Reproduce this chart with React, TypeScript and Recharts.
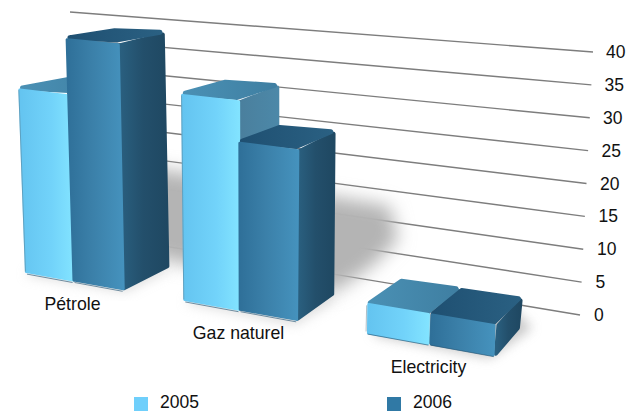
import React from "react";
import { BarChart, Bar, XAxis, YAxis, CartesianGrid, Legend } from "recharts";

const categories = ["Pétrole", "Gaz naturel", "Electricity"];
const values2005 = [28.5, 30.5, 4.2];
const values2006 = [37, 24.5, 4.2];
const yTicks = [0, 5, 10, 15, 20, 25, 30, 35, 40];

const chartData = categories.map((name, i) => ({
  name,
  y2005: values2005[i],
  y2006: values2006[i],
}));

const WIDTH = 638;
const HEIGHT = 413;
const PLOT_LEFT = 60;
const PLOT_RIGHT = 580;
const PLOT_TOP = 52;
const PLOT_BOTTOM = 315;
const BAND = (PLOT_RIGHT - PLOT_LEFT) / categories.length;
const FONT = "'Liberation Sans', Arial, sans-serif";

// perspective: the flat plot x is bent so that nearer categories get wider
const screenX = (x: number) => {
  const t = (x - (PLOT_LEFT + BAND / 2)) / BAND;
  return 74 + 154 * t + 12 * t * t;
};
const floorY = (sx: number) => 273 + 0.176 * (sx - 23);

type Pt = { x: number; y: number };

const project = (x: number, h: number): Pt => {
  const sx = screenX(x);
  const tall = h * (1 + 0.0003 * (sx - 62));
  return { x: sx + (sx - 250) * tall * 0.00016, y: floorY(sx) - tall };
};

const goBack = (p: Pt, h: number): Pt => ({
  x: p.x + 50.5 - 0.05 * p.x,
  y: p.y - (20 + 0.016 * p.x) + 0.045 * h,
});

// pull the corners in, the round stroke then grows them back with a soft bevel
const inset = (list: Pt[], d: number): string => {
  const cx = list.reduce((s, p) => s + p.x, 0) / list.length;
  const cy = list.reduce((s, p) => s + p.y, 0) / list.length;
  return list
    .map((p) => {
      const dx = cx - p.x;
      const dy = cy - p.y;
      const len = Math.hypot(dx, dy) || 1;
      return `${p.x + (dx / len) * d * 1.3},${p.y + (dy / len) * d * 1.3}`;
    })
    .join(" ");
};

const Box = (props: any) => {
  const { x, width, height, series } = props;
  const bl = project(x, 0);
  const br = project(x + width, 0);
  const tl = project(x, height);
  const tr = project(x + width, height);
  const brBack = goBack(br, 0);
  const trBack = goBack(tr, height);
  const tlBack = goBack(tl, height);
  const bevel = (id: string, d: number) => ({
    fill: `url(#${id}${series})`,
    stroke: `url(#${id}${series})`,
    strokeWidth: d * 2,
    strokeLinejoin: "round" as const,
  });
  return (
    <g>
      <polygon points={inset([br, tr, trBack, brBack], 2)} {...bevel("side", 2)} />
      <polygon points={inset([tl, tr, trBack, tlBack], 2.5)} {...bevel("top", 2.5)} />
      <polygon points={inset([bl, br, tr, tl], 1.5)} {...bevel("front", 1.5)} />
      <line x1={bl.x + 1} y1={bl.y + 0.6} x2={br.x - 1} y2={br.y + 0.6} stroke="#2a5876" strokeWidth={1} opacity={0.65} />
      {series === "2005" && (
        <line x1={bl.x - 0.5} y1={bl.y - 2} x2={tl.x - 0.5} y2={tl.y + 2} stroke="#55788c" strokeWidth={0.8} opacity={0.6} />
      )}
    </g>
  );
};

// slanted wall lines, converging towards the far left
const WallLine = (props: any) => {
  const y = props.y1;
  const k = (PLOT_BOTTOM - y) / (PLOT_BOTTOM - PLOT_TOP);
  return (
    <line
      key={props.key}
      x1={62 + 8 * k}
      y1={229 - 217 * k}
      x2={PLOT_RIGHT + 13 * k}
      y2={y}
      stroke="#7d7d7d"
      strokeWidth={1.4}
    />
  );
};

const ValueTick = (props: any) => {
  const { y, payload } = props;
  return (
    <text x={594 + (payload.value / 40) * 12} y={y + 6} fontSize={17.5} fontFamily={FONT} fill="#111">
      {payload.value}
    </text>
  );
};

const CategoryTick = (props: any) => {
  const { x, payload } = props;
  const sx = screenX(x);
  return (
    <text x={sx - 1.5} y={floorY(sx) + 28} textAnchor="middle" fontSize={17.7} fontFamily={FONT} fill="#111">
      {payload.value}
    </text>
  );
};

const legendX = [134, 387];

const LegendRow = ({ payload }: any) => (
  <div style={{ position: "relative", height: 0, fontFamily: FONT, fontSize: 17.5, color: "#111" }}>
    {(payload || []).map((entry: any, i: number) => (
      <React.Fragment key={entry.value}>
        <span style={{ position: "absolute", left: legendX[i], top: 397, width: 14, height: 14, background: entry.color }} />
        <span style={{ position: "absolute", left: legendX[i] + 26, top: 392, lineHeight: "20px" }}>{entry.value}</span>
      </React.Fragment>
    ))}
  </div>
);

const gradient = (id: string, stops: [number, string][]) => (
  <linearGradient id={id} x1="0" y1="0" x2="1" y2="0">
    {stops.map(([o, c]) => (
      <stop key={o} offset={o} stopColor={c} />
    ))}
  </linearGradient>
);

export default function App() {
  return (
    <div style={{ position: "absolute", left: 0, top: 0, width: WIDTH, height: HEIGHT }}>
      <BarChart
        width={WIDTH}
        height={HEIGHT}
        data={chartData}
        barCategoryGap="18%"
        barGap={0}
        margin={{ top: PLOT_TOP, right: 0, bottom: HEIGHT - PLOT_BOTTOM - 30, left: PLOT_LEFT }}
      >
        <defs>
          {gradient("front2005", [[0, "#64c4f0"], [0.6, "#72d3fa"], [1, "#82e3ff"]])}
          {gradient("side2005", [[0, "#4a7f9d"], [1, "#4c88a8"]])}
          {gradient("top2005", [[0, "#4a90b4"], [1, "#3f7fa2"]])}
          {gradient("front2006", [[0, "#2f7099"], [0.45, "#3b80a9"], [1, "#4592bd"]])}
          {gradient("side2006", [[0, "#2a6080"], [0.5, "#234f6b"], [1, "#1f4862"]])}
          {gradient("top2006", [[0, "#1f5072"], [1, "#2a6082"]])}
          <filter id="softShadow" x="-30%" y="-30%" width="160%" height="160%">
            <feGaussianBlur stdDeviation="9" />
          </filter>
          <filter id="softFloor" x="-30%" y="-30%" width="160%" height="160%">
            <feGaussianBlur stdDeviation="6" />
          </filter>
        </defs>
        {/* soft shadows thrown on the wall and floor, under the wall lines */}
        <polygon points="130,165 260,184 390,206 398,240 372,266 335,292 175,262 130,250" fill="#b4b4b4" filter="url(#softShadow)" />
        <polygon points="25,275 125,292 170,270 150,262 40,262" fill="#bdbdbd" filter="url(#softFloor)" opacity={0.5} />
        <polygon points="185,303 295,325 337,300 320,290 200,290" fill="#bdbdbd" filter="url(#softFloor)" opacity={0.5} />
        <polygon points="372,335 490,358 532,328 510,305 400,300" fill="#9a9a9a" filter="url(#softFloor)" opacity={0.55} />
        <CartesianGrid vertical={false} horizontal={WallLine} />
        <XAxis dataKey="name" height={30} axisLine={false} tickLine={false} interval={0} tick={CategoryTick} />
        <YAxis
          orientation="right"
          width={WIDTH - PLOT_RIGHT}
          domain={[0, 40]}
          ticks={yTicks}
          interval={0}
          axisLine={false}
          tickLine={false}
          tick={ValueTick}
        />
        <Legend content={LegendRow} wrapperStyle={{ left: 0, top: 0, bottom: "auto", width: WIDTH }} />
        <Bar dataKey="y2005" name="2005" fill="#6fcffb" isAnimationActive={false} shape={(p: any) => <Box {...p} series="2005" />} />
        <Bar dataKey="y2006" name="2006" fill="#3079a5" isAnimationActive={false} shape={(p: any) => <Box {...p} series="2006" />} />
      </BarChart>
    </div>
  );
}
